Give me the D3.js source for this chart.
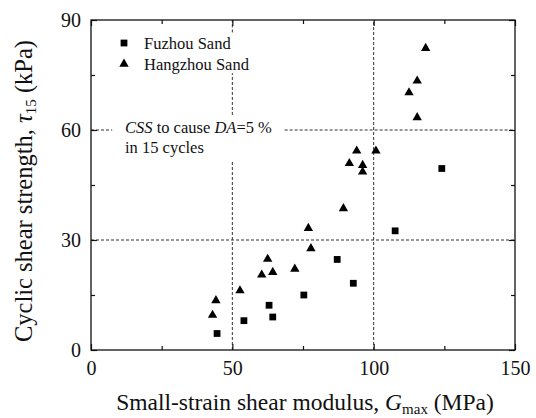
<!DOCTYPE html>
<html>
<head>
<meta charset="utf-8">
<script src="https://cdn.jsdelivr.net/npm/d3@7"></script>
<style>
  body { margin: 0; background: #fff; }
</style>
</head>
<body>
<svg id="chart" width="536" height="418"></svg>
<script>
// data: [Gmax (MPa), tau15 (kPa)]
const fuzhouSand = [
    [124.1, 49.5], [107.6, 32.5], [87.1, 24.7], [92.8, 18.2], [75.3, 15.0],
    [63.0, 12.2], [64.3, 9.0], [54.1, 8.0], [44.6, 4.5]
];
const hangzhouSand = [
    [118.4, 82.3], [115.4, 73.4], [112.5, 70.2], [115.4, 63.4], [94.0, 54.3],
    [100.8, 54.3], [91.4, 50.9], [96.1, 50.4], [96.1, 48.6], [89.3, 38.6],
    [76.9, 33.2], [77.8, 27.7], [62.5, 24.8], [72.1, 22.1], [64.3, 21.2],
    [60.4, 20.5], [52.7, 16.2], [44.2, 13.5], [43.0, 9.5]
];
const xTicks = [0, 50, 100, 150];
const xMinor = [25, 75, 125];
const yTicks = [0, 30, 60, 90];
const yMinor = [15, 45, 75];
const legendNames = ["Fuzhou Sand", "Hangzhou Sand"];

const FONT = "'Liberation Serif', 'Times New Roman', serif";

const margin = {top: 20, right: 21, bottom: 68, left: 91};
const width = 536 - margin.left - margin.right;
const height = 418 - margin.top - margin.bottom;

const svg = d3.select("#chart");
const g = svg.append("g").attr("transform", "translate(" + margin.left + "," + margin.top + ")");

const x = d3.scaleLinear().domain([0, 150]).range([0, width]);
const y = d3.scaleLinear().domain([0, 90]).range([height, 0]);

// dashed reference lines (gaps left behind the legend and the CSS label)
const refLines = [
    [[0, 30], [150, 30]],
    [[0, 60], [7.5, 60]],
    [[68.5, 60], [150, 60]],
    [[50, 0], [50, 51.8]],
    [[50, 64.1], [50, 75.5]],
    [[50, 86.6], [50, 90]],
    [[100, 0], [100, 90]]
];
g.append("g").selectAll("line")
    .data(refLines)
    .enter()
    .append("line")
    .attr("x1", d => x(d[0][0]))
    .attr("y1", d => y(d[0][1]))
    .attr("x2", d => x(d[1][0]))
    .attr("y2", d => y(d[1][1]))
    .attr("stroke", "#333")
    .attr("stroke-width", 1)
    .attr("stroke-dasharray", "3,2");

// axes with inward ticks on all four sides
const tickStyle = a => {
    a.select(".domain").remove();
    a.selectAll("line").attr("stroke", "#111").attr("stroke-width", 1.2);
    a.selectAll("text").attr("font-size", "20px").attr("fill", "#111");
};
g.append("g").attr("transform", "translate(0," + height + ")")
    .call(d3.axisBottom(x).tickValues(xTicks).tickSizeInner(-6).tickSizeOuter(0).tickPadding(11))
    .call(tickStyle);
g.append("g").attr("transform", "translate(0," + height + ")")
    .call(d3.axisBottom(x).tickValues(xMinor).tickSizeInner(-4).tickSizeOuter(0).tickFormat(""))
    .call(tickStyle);
g.append("g")
    .call(d3.axisTop(x).tickValues(xTicks).tickSizeInner(-6).tickSizeOuter(0).tickFormat(""))
    .call(tickStyle);
g.append("g")
    .call(d3.axisTop(x).tickValues(xMinor).tickSizeInner(-4).tickSizeOuter(0).tickFormat(""))
    .call(tickStyle);
g.append("g")
    .call(d3.axisLeft(y).tickValues(yTicks).tickSizeInner(-6).tickSizeOuter(0).tickPadding(10))
    .call(tickStyle);
g.append("g")
    .call(d3.axisLeft(y).tickValues(yMinor).tickSizeInner(-4).tickSizeOuter(0).tickFormat(""))
    .call(tickStyle);
g.append("g").attr("transform", "translate(" + width + ",0)")
    .call(d3.axisRight(y).tickValues(yTicks).tickSizeInner(-6).tickSizeOuter(0).tickFormat(""))
    .call(tickStyle);
g.append("g").attr("transform", "translate(" + width + ",0)")
    .call(d3.axisRight(y).tickValues(yMinor).tickSizeInner(-4).tickSizeOuter(0).tickFormat(""))
    .call(tickStyle);

// frame
g.append("rect")
    .attr("width", width)
    .attr("height", height)
    .attr("fill", "none")
    .attr("stroke", "#111")
    .attr("stroke-width", 1.3);

// markers
const square = d3.symbol().type(d3.symbolSquare).size(46);
const triangle = d3.symbol().type(d3.symbolTriangle).size(38);

g.append("g").selectAll("path")
    .data(fuzhouSand)
    .enter()
    .append("path")
    .attr("d", square)
    .attr("fill", "#000")
    .attr("transform", d => "translate(" + x(d[0]) + "," + y(d[1]) + ")");

g.append("g").selectAll("path")
    .data(hangzhouSand)
    .enter()
    .append("path")
    .attr("d", triangle)
    .attr("fill", "#000")
    .attr("transform", d => "translate(" + x(d[0]) + "," + y(d[1]) + ")");

// legend
const legend = g.append("g").attr("transform", "translate(33, 23)");
legend.append("path").attr("d", square).attr("fill", "#000");
legend.append("path").attr("d", triangle).attr("fill", "#000").attr("transform", "translate(0, 21)");
legend.selectAll("text")
    .data(legendNames)
    .enter()
    .append("text")
    .attr("x", 20)
    .attr("y", (d, i) => 6 + i * 21)
    .attr("font-size", "16.5px")
    .attr("fill", "#111")
    .text(d => d);

// CSS annotation
const note = g.append("text").attr("x", 34).attr("y", 113).attr("font-size", "16.5px").attr("fill", "#111");
note.append("tspan").attr("font-style", "italic").text("CSS");
note.append("tspan").text(" to cause ");
note.append("tspan").attr("font-style", "italic").text("DA");
note.append("tspan").text("=5 %");
g.append("text").attr("x", 34).attr("y", 133).attr("font-size", "16.5px").attr("fill", "#111").text("in 15 cycles");

// axis titles
const xTitle = svg.append("text")
    .attr("x", margin.left + width / 2 + 2)
    .attr("y", 410)
    .attr("text-anchor", "middle")
    .attr("font-size", "23.5px")
    .attr("fill", "#111");
xTitle.append("tspan").text("Small-strain shear modulus, ");
xTitle.append("tspan").attr("font-style", "italic").text("G");
xTitle.append("tspan").attr("font-size", "15px").attr("dy", 4).text("max");
xTitle.append("tspan").attr("dy", -4).text(" (MPa)");

const yTitle = svg.append("text")
    .attr("transform", "translate(32," + (margin.top + height / 2 + 6) + ") rotate(-90)")
    .attr("text-anchor", "middle")
    .attr("font-size", "24.5px")
    .attr("fill", "#111");
yTitle.append("tspan").text("Cyclic shear strength, ");
yTitle.append("tspan").attr("font-style", "italic").text("τ");
yTitle.append("tspan").attr("font-size", "15px").attr("dy", 4).text("15");
yTitle.append("tspan").attr("dy", -4).text(" (kPa)");

// every text in the serif face
svg.selectAll("text").attr("font-family", FONT);
</script>
</body>
</html>
